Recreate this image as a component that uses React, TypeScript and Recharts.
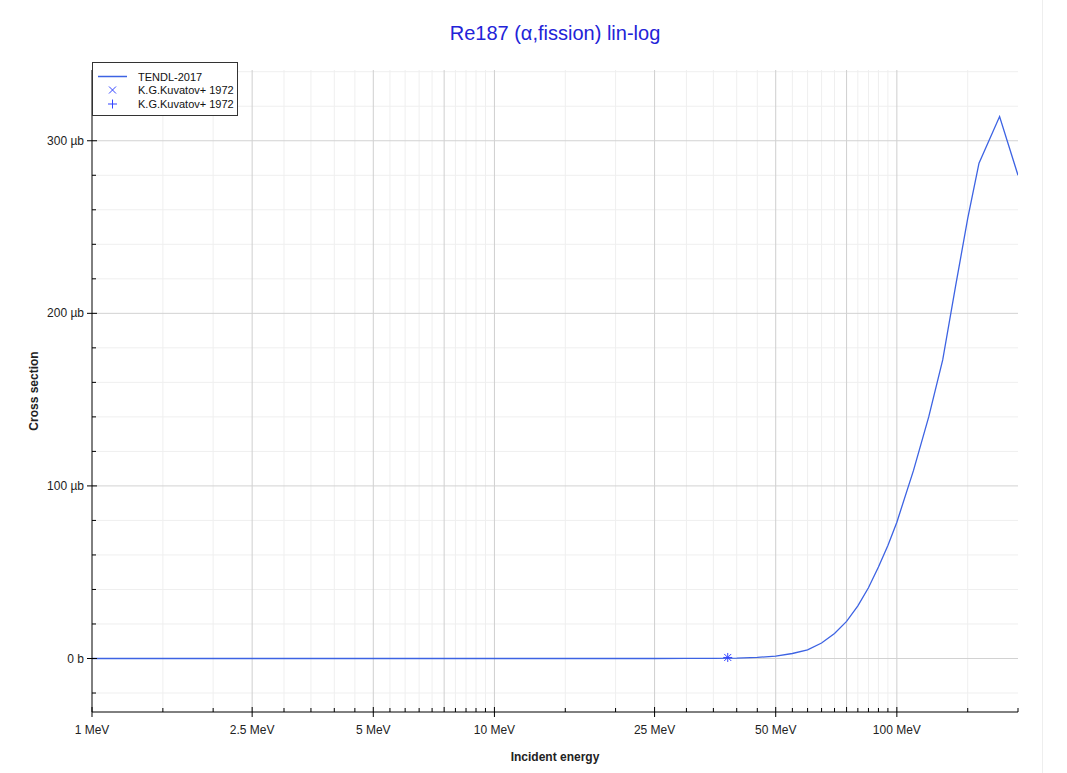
import { ComposedChart, Line, Scatter, XAxis, YAxis, ReferenceLine, Legend } from "recharts";

// TENDL-2017 evaluation, energy in MeV, cross section in µb
const tendlE = [1, 2, 5, 10, 15, 20, 25, 30, 35, 40, 45, 50, 55, 60, 65, 70, 75, 80, 85, 90, 95, 100, 110, 120, 130, 140, 150, 160, 180, 200];
const tendlSigma = [0, 0, 0, 0, 0, 0, 0.01, 0.03, 0.08, 0.2, 0.6, 1.4, 2.9, 5.0, 9.0, 14.5, 21.5, 30.5, 41, 53, 65.5, 79, 109, 140, 173, 216, 255, 287, 314, 280];

// K.G.Kuvatov+ 1972
const expE = [38.0];
const expSigma = [0.6];

const xTicks = [1, 1.5, 2, 2.5, 3, 3.5, 4, 4.5, 5, 5.5, 6, 6.5, 7, 7.5, 8, 8.5, 9, 9.5, 10, 15, 20, 25, 30, 35, 40, 45, 50, 55, 60, 65, 70, 75, 80, 85, 90, 95, 100, 150, 200];
const xMajor = [2.5, 5, 7.5, 10, 25, 50, 75, 100];
const xLabels: Record<number, string> = { 1: "1 MeV", 2.5: "2.5 MeV", 5: "5 MeV", 10: "10 MeV", 25: "25 MeV", 50: "50 MeV", 100: "100 MeV" };

const yTicks = [-20, 0, 20, 40, 60, 80, 100, 120, 140, 160, 180, 200, 220, 240, 260, 280, 300, 320, 340];
const yMajor = [0, 100, 200, 300];

const tendl = tendlE.map((e, i) => ({ e, s: tendlSigma[i] }));
const exp = expE.map((e, i) => ({ e, s: expSigma[i] }));

const FONT = "'Liberation Sans', Arial, sans-serif";
const BLUE = "#3d63e3";
const MARK = "#3344ff";

const yLabel = (v: number) => (v === 0 ? "0 b" : `${v} µb`);

const BottomTick = (p: any) => {
  const v = p.payload.value;
  const lab = xLabels[v];
  const big = lab !== undefined || xMajor.includes(v);
  return (
    <g>
      <line x1={p.x} x2={p.x} y1={p.y - (big ? 5 : 4)} y2={lab !== undefined ? p.y + 5 : p.y} stroke="#000" />
      {lab && (
        <text x={p.x} y={p.y + 22} textAnchor="middle" fontSize={12} fontFamily={FONT} fill="#222">
          {lab}
        </text>
      )}
    </g>
  );
};

const TopTick = (p: any) => {
  const big = xMajor.includes(p.payload.value);
  return <line x1={p.x} x2={p.x} y1={p.y} y2={p.y + (big ? 5 : 4)} stroke="#000" />;
};

const LeftTick = (p: any) => {
  const v = p.payload.value;
  const major = yMajor.includes(v);
  return (
    <g>
      <line x1={major ? p.x - 5 : p.x} x2={p.x + (major ? 5 : 4)} y1={p.y} y2={p.y} stroke="#000" />
      {major && (
        <text x={p.x - 8} y={p.y + 4} textAnchor="end" fontSize={12} fontFamily={FONT} fill="#222">
          {yLabel(v)}
        </text>
      )}
    </g>
  );
};

const RightTick = (p: any) => {
  const major = yMajor.includes(p.payload.value);
  return <line x1={p.x - (major ? 5 : 4)} x2={p.x} y1={p.y} y2={p.y} stroke="#000" />;
};

const Cross = (p: any) => (
  <path d={`M${p.cx - 3.5},${p.cy - 3.5}L${p.cx + 3.5},${p.cy + 3.5}M${p.cx - 3.5},${p.cy + 3.5}L${p.cx + 3.5},${p.cy - 3.5}`} stroke={MARK} strokeWidth={1} />
);
const Plus = (p: any) => (
  <path d={`M${p.cx - 4.5},${p.cy}L${p.cx + 4.5},${p.cy}M${p.cx},${p.cy - 4.5}L${p.cx},${p.cy + 4.5}`} stroke={MARK} strokeWidth={1} />
);

const LegendBox = () => (
  <svg width={146} height={54} style={{ display: "block" }}>
    <rect x={0.5} y={0.5} width={145} height={53} fill="#fff" stroke="#333" />
    <line x1={6} x2={35} y1={14.5} y2={14.5} stroke={BLUE} strokeWidth={1.5} />
    <Cross cx={20.5} cy={28} />
    <Plus cx={20.5} cy={42} />
    {["TENDL-2017", "K.G.Kuvatov+ 1972", "K.G.Kuvatov+ 1972"].map((t, i) => (
      <text key={i} x={46} y={18.5 + i * 13.7} fontSize={11} fontFamily={FONT} fill="#111">
        {t}
      </text>
    ))}
  </svg>
);

export default function App() {
  return (
    <div style={{ position: "absolute", left: 0, top: 0, width: 1042, height: 773, borderRight: "1px solid #eee", background: "#fff" }}>
      <div style={{ position: "absolute", left: 92, width: 926, top: 22, textAlign: "center", fontFamily: FONT, fontSize: 20, color: "#2323d8" }}>
        Re187 (α,fission) lin-log
      </div>
      <div style={{ position: "absolute", left: 92, width: 926, top: 750, textAlign: "center", fontFamily: FONT, fontSize: 12, fontWeight: "bold", color: "#222" }}>
        Incident energy
      </div>
      <div style={{ position: "absolute", left: 34, top: 391, transform: "translate(-50%,-50%) rotate(-90deg)", whiteSpace: "nowrap", fontFamily: FONT, fontSize: 12, fontWeight: "bold", color: "#222" }}>
        Cross section
      </div>
      <ComposedChart width={1043} height={773} margin={{ top: 70, right: 25, bottom: 21, left: 0 }} style={{ position: "absolute", left: 0, top: 0 }}>
        <XAxis dataKey="e" type="number" scale="log" domain={[1, 200]} allowDataOverflow ticks={xTicks} interval={0} height={40} tickSize={0} tickMargin={0} tickLine={false} axisLine={{ stroke: "#000" }} tick={BottomTick} />
        <XAxis xAxisId="top" orientation="top" type="number" scale="log" domain={[1, 200]} allowDataOverflow ticks={xTicks} interval={0} height={0} tickSize={0} tickMargin={0} tickLine={false} axisLine={{ stroke: "#000" }} tick={TopTick} />
        <YAxis type="number" domain={[-31, 341]} allowDataOverflow ticks={yTicks} interval={0} width={92} tickSize={0} tickMargin={0} tickLine={false} axisLine={{ stroke: "#000" }} tick={LeftTick} />
        <YAxis yAxisId="right" orientation="right" type="number" domain={[-31, 341]} allowDataOverflow ticks={yTicks} interval={0} width={0} tickSize={0} tickMargin={0} tickLine={false} axisLine={{ stroke: "#000" }} tick={RightTick} />
        {xTicks.filter((v) => !xMajor.includes(v) && v !== 1 && v !== 200).map((v) => (
          <ReferenceLine key={`xm${v}`} x={v} stroke="#efefef" />
        ))}
        {yTicks.filter((v) => !yMajor.includes(v)).map((v) => (
          <ReferenceLine key={`ym${v}`} y={v} stroke="#efefef" />
        ))}
        {xMajor.map((v) => (
          <ReferenceLine key={`xM${v}`} x={v} stroke="#cfcfcf" />
        ))}
        {yMajor.map((v) => (
          <ReferenceLine key={`yM${v}`} y={v} stroke="#d2d2d2" />
        ))}
        <Line data={tendl} dataKey="s" type="linear" stroke={BLUE} strokeWidth={1.3} dot={false} isAnimationActive={false} />
        <Scatter data={exp} dataKey="s" shape={Cross} isAnimationActive={false} />
        <Scatter data={exp} dataKey="s" shape={Plus} isAnimationActive={false} />
        <Legend layout="horizontal" verticalAlign="middle" align="center" content={LegendBox} wrapperStyle={{ left: 92, top: 62, width: 146, height: 54 }} />
      </ComposedChart>
    </div>
  );
}
